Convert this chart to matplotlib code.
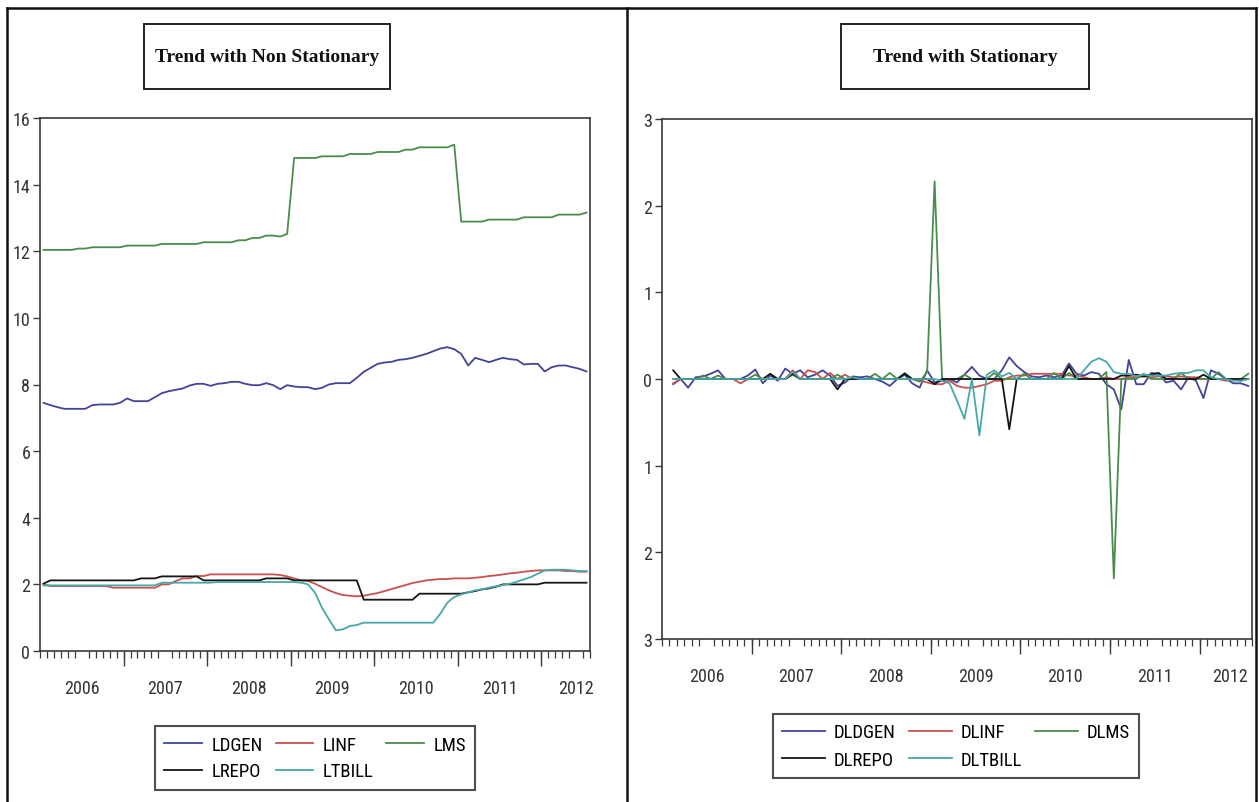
import numpy as np
import pandas as pd
import matplotlib
matplotlib.use("Agg")
import matplotlib.pyplot as plt
from matplotlib import font_manager as fm
from matplotlib.lines import Line2D
from matplotlib.patches import Rectangle

# ---------------- data ----------------
months = pd.period_range("2006-01", periods=79, freq="M")
diff_months = months[1:]

years = ["2006", "2007", "2008", "2009", "2010", "2011", "2012"]

LDGEN = [7.45, 7.38, 7.32, 7.27, 7.27, 7.27, 7.27, 7.38, 7.40, 7.40,
         7.40, 7.45, 7.58, 7.50, 7.50, 7.50, 7.62, 7.74, 7.80, 7.84,
         7.88, 7.97, 8.02, 8.02, 7.96, 8.02, 8.04, 8.08, 8.08, 8.02,
         7.98, 7.98, 8.04, 7.98, 7.86, 7.98, 7.94, 7.92, 7.92, 7.86,
         7.90, 8.00, 8.04, 8.04, 8.04, 8.20, 8.38, 8.50, 8.62, 8.66,
         8.68, 8.74, 8.76, 8.80, 8.86, 8.92, 9.00, 9.08, 9.12, 9.06,
         8.92, 8.57, 8.80, 8.74, 8.67, 8.74, 8.80, 8.76, 8.74, 8.60,
         8.62, 8.62, 8.39, 8.52, 8.57, 8.57, 8.52, 8.47, 8.39]

LINF = [2.00, 1.95, 1.95, 1.95, 1.95, 1.95, 1.95, 1.95, 1.95, 1.95,
        1.90, 1.90, 1.90, 1.90, 1.90, 1.90, 1.90, 2.00, 2.00, 2.10,
        2.18, 2.18, 2.25, 2.25, 2.30, 2.30, 2.30, 2.30, 2.30, 2.30,
        2.30, 2.30, 2.30, 2.30, 2.28, 2.24, 2.18, 2.12, 2.10, 2.02,
        1.92, 1.82, 1.74, 1.68, 1.66, 1.64, 1.66, 1.70, 1.74, 1.80,
        1.86, 1.92, 1.98, 2.04, 2.08, 2.12, 2.14, 2.16, 2.16, 2.18,
        2.18, 2.18, 2.20, 2.22, 2.25, 2.27, 2.30, 2.33, 2.35, 2.38,
        2.40, 2.42, 2.42, 2.42, 2.42, 2.40, 2.40, 2.38, 2.38]

LMS = [12.04, 12.04, 12.04, 12.04, 12.04, 12.08, 12.08, 12.12, 12.12, 12.12,
       12.12, 12.12, 12.17, 12.17, 12.17, 12.17, 12.17, 12.22, 12.22, 12.22,
       12.22, 12.22, 12.22, 12.27, 12.27, 12.27, 12.27, 12.27, 12.33, 12.33,
       12.40, 12.40, 12.47, 12.47, 12.44, 12.52, 14.80, 14.80, 14.80, 14.80,
       14.85, 14.85, 14.85, 14.85, 14.92, 14.92, 14.92, 14.92, 14.98, 14.98,
       14.98, 14.98, 15.05, 15.05, 15.12, 15.12, 15.12, 15.12, 15.12, 15.20,
       12.89, 12.89, 12.89, 12.89, 12.95, 12.95, 12.95, 12.95, 12.95, 13.02,
       13.02, 13.02, 13.02, 13.02, 13.10, 13.10, 13.10, 13.10, 13.16]

LREPO = [2.02, 2.12, 2.12, 2.12, 2.12, 2.12, 2.12, 2.12, 2.12, 2.12,
         2.12, 2.12, 2.12, 2.12, 2.18, 2.18, 2.18, 2.24, 2.24, 2.24,
         2.24, 2.24, 2.24, 2.12, 2.12, 2.12, 2.12, 2.12, 2.12, 2.12,
         2.12, 2.12, 2.18, 2.18, 2.18, 2.18, 2.12, 2.12, 2.12, 2.12,
         2.12, 2.12, 2.12, 2.12, 2.12, 2.12, 1.54, 1.54, 1.54, 1.54,
         1.54, 1.54, 1.54, 1.54, 1.72, 1.72, 1.72, 1.72, 1.72, 1.72,
         1.72, 1.76, 1.80, 1.85, 1.88, 1.93, 2.00, 2.00, 2.00, 2.00,
         2.00, 2.00, 2.05, 2.05, 2.05, 2.05, 2.05, 2.05, 2.05]

LTBILL = [1.97, 1.97, 1.97, 1.97, 1.97, 1.97, 1.97, 1.97, 1.97, 1.97,
          1.97, 1.97, 1.97, 1.97, 1.97, 1.97, 1.97, 2.05, 2.05, 2.05,
          2.05, 2.05, 2.05, 2.05, 2.05, 2.07, 2.07, 2.07, 2.07, 2.07,
          2.07, 2.07, 2.07, 2.07, 2.07, 2.07, 2.07, 2.05, 2.00, 1.75,
          1.30, 0.95, 0.62, 0.65, 0.75, 0.78, 0.85, 0.85, 0.85, 0.85,
          0.85, 0.85, 0.85, 0.85, 0.85, 0.85, 0.85, 1.12, 1.45, 1.62,
          1.70, 1.76, 1.82, 1.85, 1.90, 1.94, 1.98, 2.02, 2.08, 2.15,
          2.22, 2.32, 2.42, 2.44, 2.44, 2.44, 2.42, 2.40, 2.40]

DLDGEN = [-0.06, 0.00, -0.10, 0.02, 0.03, 0.06, 0.10, 0.00, 0.00, 0.00,
          0.04, 0.11, -0.05, 0.04, -0.02, 0.12, 0.06, 0.10, 0.02, 0.05,
          0.10, 0.04, -0.08, -0.04, 0.03, 0.02, 0.03, 0.00, -0.03, -0.08,
          0.00, 0.05, -0.05, -0.10, 0.10, -0.04, -0.02, 0.00, -0.04, 0.05,
          0.14, 0.04, 0.00, 0.00, 0.10, 0.25, 0.15, 0.08, 0.03, 0.02,
          0.04, 0.02, 0.04, 0.18, 0.06, 0.04, 0.08, 0.06, -0.06, -0.12,
          -0.35, 0.22, -0.06, -0.06, 0.07, 0.06, -0.04, -0.02, -0.12, 0.02,
          -0.02, -0.22, 0.10, 0.06, 0.00, -0.05, -0.05, -0.08]

DLINF = [-0.05, 0.00, 0.00, 0.00, 0.00, 0.00, 0.00, 0.00, 0.00, -0.05,
         0.00, 0.00, 0.00, 0.00, 0.00, 0.00, 0.10, 0.00, 0.10, 0.08,
         0.00, 0.07, 0.00, 0.05, 0.00, 0.00, 0.00, 0.00, 0.00, 0.00,
         0.00, 0.00, 0.00, -0.02, -0.04, -0.06, -0.06, -0.02, -0.08, -0.10,
         -0.10, -0.08, -0.06, -0.02, -0.02, 0.02, 0.04, 0.04, 0.06, 0.06,
         0.06, 0.06, 0.06, 0.04, 0.04, 0.02, 0.00, 0.00, 0.02, 0.00,
         0.00, 0.02, 0.02, 0.03, 0.02, 0.03, 0.03, 0.02, 0.03, 0.02,
         0.02, 0.00, 0.00, 0.00, -0.02, 0.00, -0.02, 0.00]

DLMS = [0.00, 0.00, 0.00, 0.00, 0.04, 0.00, 0.04, 0.00, 0.00, 0.00,
        0.00, 0.05, 0.00, 0.00, 0.00, 0.00, 0.05, 0.00, 0.00, 0.00,
        0.00, 0.00, 0.05, 0.00, 0.00, 0.00, 0.00, 0.06, 0.00, 0.07,
        0.00, 0.07, 0.00, -0.03, 0.08, 2.28, 0.00, 0.00, 0.00, 0.05,
        0.00, 0.00, 0.00, 0.07, 0.00, 0.00, 0.00, 0.06, 0.00, 0.00,
        0.00, 0.07, 0.00, 0.07, 0.00, 0.00, 0.00, 0.00, 0.08, -2.30,
        0.00, 0.00, 0.00, 0.06, 0.00, 0.00, 0.00, 0.00, 0.07, 0.00,
        0.00, 0.00, 0.00, 0.08, 0.00, 0.00, 0.00, 0.06]

DLREPO = [0.10, 0.00, 0.00, 0.00, 0.00, 0.00, 0.00, 0.00, 0.00, 0.00,
          0.00, 0.00, 0.00, 0.06, 0.00, 0.00, 0.06, 0.00, 0.00, 0.00,
          0.00, 0.00, -0.12, 0.00, 0.00, 0.00, 0.00, 0.00, 0.00, 0.00,
          0.00, 0.06, 0.00, 0.00, 0.00, -0.06, 0.00, 0.00, 0.00, 0.00,
          0.00, 0.00, 0.00, 0.00, 0.00, -0.58, 0.00, 0.00, 0.00, 0.00,
          0.00, 0.00, 0.00, 0.15, 0.00, 0.00, 0.00, 0.00, 0.00, 0.00,
          0.04, 0.04, 0.05, 0.03, 0.05, 0.07, 0.00, 0.00, 0.00, 0.00,
          0.00, 0.05, 0.00, 0.00, 0.00, 0.00, 0.00, 0.00]

DLTBILL = [0.00, 0.00, 0.00, 0.00, 0.00, 0.00, 0.00, 0.00, 0.00, 0.00,
           0.00, 0.00, 0.00, 0.00, 0.00, 0.00, 0.08, 0.00, 0.00, 0.00,
           0.00, 0.00, 0.00, 0.00, 0.02, 0.00, 0.00, 0.00, 0.00, 0.00,
           0.00, 0.00, 0.00, 0.00, 0.00, 0.00, -0.02, -0.05, -0.25, -0.46,
           0.00, -0.65, 0.05, 0.10, 0.03, 0.07, 0.00, 0.00, 0.00, 0.00,
           0.00, 0.00, 0.00, 0.00, 0.00, 0.10, 0.20, 0.24, 0.20, 0.08,
           0.06, 0.06, 0.03, 0.05, 0.04, 0.04, 0.04, 0.06, 0.07, 0.07,
           0.10, 0.10, 0.02, 0.00, 0.00, -0.02, -0.02, 0.00]

left_yticks = [0, 2, 4, 6, 8, 10, 12, 14, 16]
left_yticklabels = ["0", "2", "4", "6", "8", "10", "12", "14", "16"]
right_yticks = [3, 2, 1, 0, -1, -2, -3]
right_yticklabels = ["3", "2", "1", "0", "1", "2", "3"]

# ---------------- style ----------------
C_BLUE = "#43439a"
C_RED = "#cc5050"
C_GREEN = "#4a8c4a"
C_BLACK = "#151515"
C_TEAL = "#48a8a8"
AX_COLOR = "#3a3a3a"

names = {f.name for f in fm.fontManager.ttflist}
if "Liberation Sans Narrow" in names:
    NARROW = dict(family="Liberation Sans Narrow")
elif "Roboto Condensed" in names:
    NARROW = dict(family="Roboto Condensed")
else:
    NARROW = dict(family="DejaVu Sans", stretch="condensed")

W, H = 1259, 803
fig = plt.figure(figsize=(W / 100, H / 100), dpi=100)
fig.patch.set_facecolor("white")


def fx(x):
    return x / W


def fy(y):
    return 1 - y / H


x_lvl = np.arange(len(months))
x_dif = np.arange(1, len(months))

year_bounds = [12 * k - 0.5 for k in range(1, 7)]
month_bounds = [k - 0.5 for k in range(0, 80)]
label_pos_left = [5.5, 17.5, 29.5, 41.5, 53.5, 65.5, 76.5]
label_pos_right = [5.5, 17.5, 29.5, 41.5, 53.5, 65.5, 75.6]


def style_axis(ax, yticks, ylabels, ylim, label_pos):
    ax.set_xlim(-0.5, 78.5)
    ax.set_ylim(*ylim)
    for s in ax.spines.values():
        s.set_color(AX_COLOR)
        s.set_linewidth(1.2)
    ax.set_yticks(yticks)
    ax.set_yticklabels(ylabels, **NARROW, fontsize=13, color="#333333")
    ax.tick_params(axis="y", direction="out", length=5, width=1.0, color=AX_COLOR, pad=2)
    ax.set_xticks(label_pos)
    ax.set_xticklabels(years, **NARROW, fontsize=13, color="#333333")
    ax.tick_params(axis="x", which="major", length=0, pad=20)
    ax.set_xticks(month_bounds, minor=True)
    ax.tick_params(axis="x", which="minor", direction="out", length=5, width=0.9, color=AX_COLOR)
    sec = ax.secondary_xaxis("bottom")
    sec.set_xticks(year_bounds)
    sec.tick_params(direction="out", length=11, width=1.0, color=AX_COLOR, labelbottom=False)
    sec.spines["bottom"].set_visible(False)


LEG_FONT = dict(size=13.5, **NARROW)

# ---------------- left panel ----------------
axL = fig.add_axes([fx(40), fy(652), fx(550), 533 / H])
lw = 1.3
hL = {}
hL["LDGEN"], = axL.plot(x_lvl, LDGEN, color=C_BLUE, lw=lw, label="LDGEN")
hL["LINF"], = axL.plot(x_lvl, LINF, color=C_RED, lw=lw, label="LINF")
hL["LMS"], = axL.plot(x_lvl, LMS, color=C_GREEN, lw=lw, label="LMS")
hL["LREPO"], = axL.plot(x_lvl, LREPO, color=C_BLACK, lw=lw, label="LREPO")
hL["LTBILL"], = axL.plot(x_lvl, LTBILL, color=C_TEAL, lw=lw, label="LTBILL")
style_axis(axL, left_yticks, left_yticklabels, (0, 16), label_pos_left)

order = ["LDGEN", "LREPO", "LINF", "LTBILL", "LMS"]
legL = axL.legend([hL[k] for k in order], order, ncol=3, loc="center",
                  bbox_to_anchor=(fx(315), fy(759)), bbox_transform=fig.transFigure,
                  frameon=True, fancybox=False, edgecolor="#222222",
                  prop=LEG_FONT, handlelength=2.0,
                  columnspacing=0.7, labelspacing=0.45, borderpad=0.5,
                  handletextpad=0.5)
legL.get_frame().set_linewidth(1.5)

# ---------------- right panel ----------------
axR = fig.add_axes([fx(662), fy(640), fx(590), 520 / H])
hR = {}
hR["DLDGEN"], = axR.plot(x_dif, DLDGEN, color=C_BLUE, lw=lw, label="DLDGEN")
hR["DLINF"], = axR.plot(x_dif, DLINF, color=C_RED, lw=lw, label="DLINF")
hR["DLMS"], = axR.plot(x_dif, DLMS, color=C_GREEN, lw=lw, label="DLMS")
hR["DLREPO"], = axR.plot(x_dif, DLREPO, color=C_BLACK, lw=lw, label="DLREPO")
hR["DLTBILL"], = axR.plot(x_dif, DLTBILL, color=C_TEAL, lw=lw, label="DLTBILL")
style_axis(axR, right_yticks, right_yticklabels, (-3, 3), label_pos_right)

orderR = ["DLDGEN", "DLREPO", "DLINF", "DLTBILL", "DLMS"]
legR = axR.legend([hR[k] for k in orderR], orderR, ncol=3, loc="center",
                  bbox_to_anchor=(fx(956), fy(747)), bbox_transform=fig.transFigure,
                  frameon=True, fancybox=False, edgecolor="#222222",
                  prop=LEG_FONT, handlelength=2.3,
                  columnspacing=0.7, labelspacing=0.5, borderpad=0.5,
                  handletextpad=0.45)
legR.get_frame().set_linewidth(1.5)

# ---------------- frames and titles ----------------
frame_kw = dict(transform=fig.transFigure, color="#111111", lw=1.8)
fig.add_artist(Line2D([fx(7), fx(1256)], [fy(9), fy(9)], **frame_kw))
fig.add_artist(Line2D([fx(7), fx(7)], [fy(9), fy(803)], **frame_kw))
fig.add_artist(Line2D([fx(1256), fx(1256)], [fy(9), fy(803)], **frame_kw))
fig.add_artist(Line2D([fx(627), fx(627)], [fy(9), fy(803)], **frame_kw))

for (x0, x1, title) in [(144, 390, "Trend with Non Stationary"),
                        (841, 1089, "Trend with Stationary")]:
    fig.add_artist(Rectangle((fx(x0), fy(90)), fx(x1 - x0), 65 / H,
                             transform=fig.transFigure, fill=False,
                             edgecolor="#222222", lw=1.4))
    fig.text(fx((x0 + x1) / 2), fy(57), title, ha="center", va="center",
             family="Liberation Serif", weight="bold", fontsize=14, color="#111111")

fig.savefig("out.png", dpi=100)
